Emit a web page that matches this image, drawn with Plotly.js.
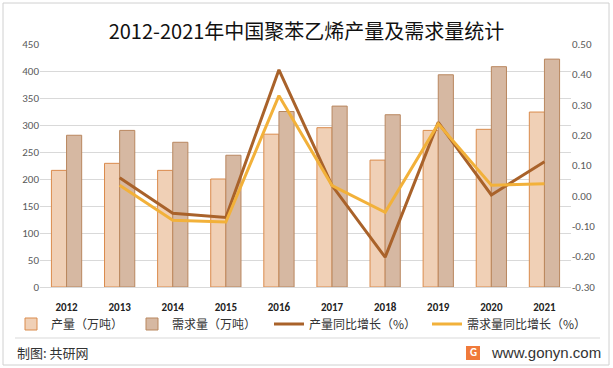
<!DOCTYPE html>
<html><head><meta charset="utf-8">
<script src="https://cdn.plot.ly/plotly-3.0.1.min.js"></script>
<style>html,body{margin:0;padding:0;background:#fff}#c{width:613px;height:368px}</style>
</head><body><div id="c"></div>
<script>
const years = ['2012','2013','2014','2015','2016','2017','2018','2019','2020','2021'];
const production = [216, 229, 216, 200, 283, 295, 235, 290, 292, 324];
const demand = [281, 290, 268, 244, 325, 335, 319, 393, 408, 422];
const prodGrowth = [null, 0.060, -0.057, -0.071, 0.415, 0.034, -0.202, 0.242, 0.003, 0.112];
const demandGrowth = [null, 0.035, -0.080, -0.086, 0.330, 0.034, -0.054, 0.237, 0.035, 0.040];
const leftTicks = [0,50,100,150,200,250,300,350,400,450];
const rightTicks = [-0.3,-0.2,-0.1,0,0.1,0.2,0.3,0.4,0.5];

const font = 'Calibri, "Liberation Sans", "Noto Sans CJK SC", sans-serif';
const cjk = '"Noto Sans CJK SC", sans-serif';

const traces = [
  {type:'bar', name:'产量（万吨）', x:years, y:production, legend:'legend',
   marker:{color:'#F0D0B6', line:{color:'#DA8B4C', width:1}}},
  {type:'bar', name:'需求量（万吨）', x:years, y:demand, legend:'legend2',
   marker:{color:'#D6B8A2', line:{color:'#B9875F', width:1}}},
  {type:'scatter', mode:'lines', name:'产量同比增长（%）', x:years, y:prodGrowth, yaxis:'y2', legend:'legend3',
   line:{color:'#A9622A', width:3}},
  {type:'scatter', mode:'lines', name:'需求量同比增长（%）', x:years, y:demandGrowth, yaxis:'y2', legend:'legend4',
   line:{color:'#F2B13A', width:3}}
];

const px = v => (v-40)/531;
const py = v => (287-v)/243;
const lg = textStart => ({orientation:'h', xref:'container', yref:'container', x:(textStart-40)/613, xanchor:'left',
  y:1-324/368, yanchor:'middle', font:{family:cjk, size:12, color:'#333'}, itemwidth:30, bgcolor:'rgba(0,0,0,0)'});

const layout = {
  width:613, height:368,
  margin:{l:40, r:42, t:44, b:81},
  paper_bgcolor:'#fff', plot_bgcolor:'#fff',
  barmode:'group', bargap:0.43, bargroupgap:0,
  showlegend:true,
  title:{text:'2012-2021年中国聚苯乙烯产量及需求量统计', font:{family:cjk, size:20, color:'#111', weight:'normal'}, x:0.5, xanchor:'center', y:0.912, yanchor:'middle'},
  xaxis:{type:'category', showgrid:false, showline:true, linecolor:'#d9d9d9', linewidth:1,
         ticks:'', ticklabelstandoff:10, tickfont:{family:font, size:11, color:'#222', weight:'bold'}, fixedrange:true},
  yaxis:{range:[0,450], tickvals:leftTicks, ticktext:leftTicks.map(String), showgrid:true, gridcolor:'#d9d9d9',
         zeroline:false, tickfont:{family:font, size:11, color:'#595959'}, ticks:'', ticklen:0},
  yaxis2:{range:[-0.3,0.5], overlaying:'y', side:'right', tickvals:rightTicks, ticktext:rightTicks.map(v=>v.toFixed(2)),
          showgrid:false, zeroline:false, tickfont:{family:font, size:11, color:'#595959'}, ticks:''},
  legend:lg(51), legend2:lg(172), legend3:lg(309), legend4:lg(467),
  shapes:[
    {type:'rect', xref:'paper', yref:'paper', x0:px(3), x1:px(609), y0:py(365), y1:py(3), line:{color:'#d0d0d0', width:1}},
    {type:'line', xref:'paper', yref:'paper', x0:px(15), x1:px(600), y0:py(338), y1:py(338), line:{color:'#d9d9d9', width:1}},
    {type:'rect', xref:'paper', yref:'paper', x0:px(466), x1:px(480), y0:py(360), y1:py(346), fillcolor:'#F07A3A', line:{width:0}}
  ],
  annotations:[
    {text:'制图: 共研网', xref:'paper', yref:'paper', x:px(15), y:py(353), xanchor:'left', yanchor:'middle', showarrow:false,
     font:{family:cjk, size:13, color:'#333'}},
    {text:'G', xref:'paper', yref:'paper', x:px(473), y:py(353), xanchor:'center', yanchor:'middle', showarrow:false,
     font:{family:font, size:11, color:'#fff', weight:'bold'}},
    {text:'www.gonyn.com', xref:'paper', yref:'paper', x:px(489), y:py(352), xanchor:'left', yanchor:'middle', showarrow:false,
     font:{family:'"Liberation Sans", Arial, sans-serif', size:15, color:'#333'}}
  ]
};
Plotly.newPlot('c', traces, layout, {displayModeBar:false, staticPlot:true});
</script></body></html>
